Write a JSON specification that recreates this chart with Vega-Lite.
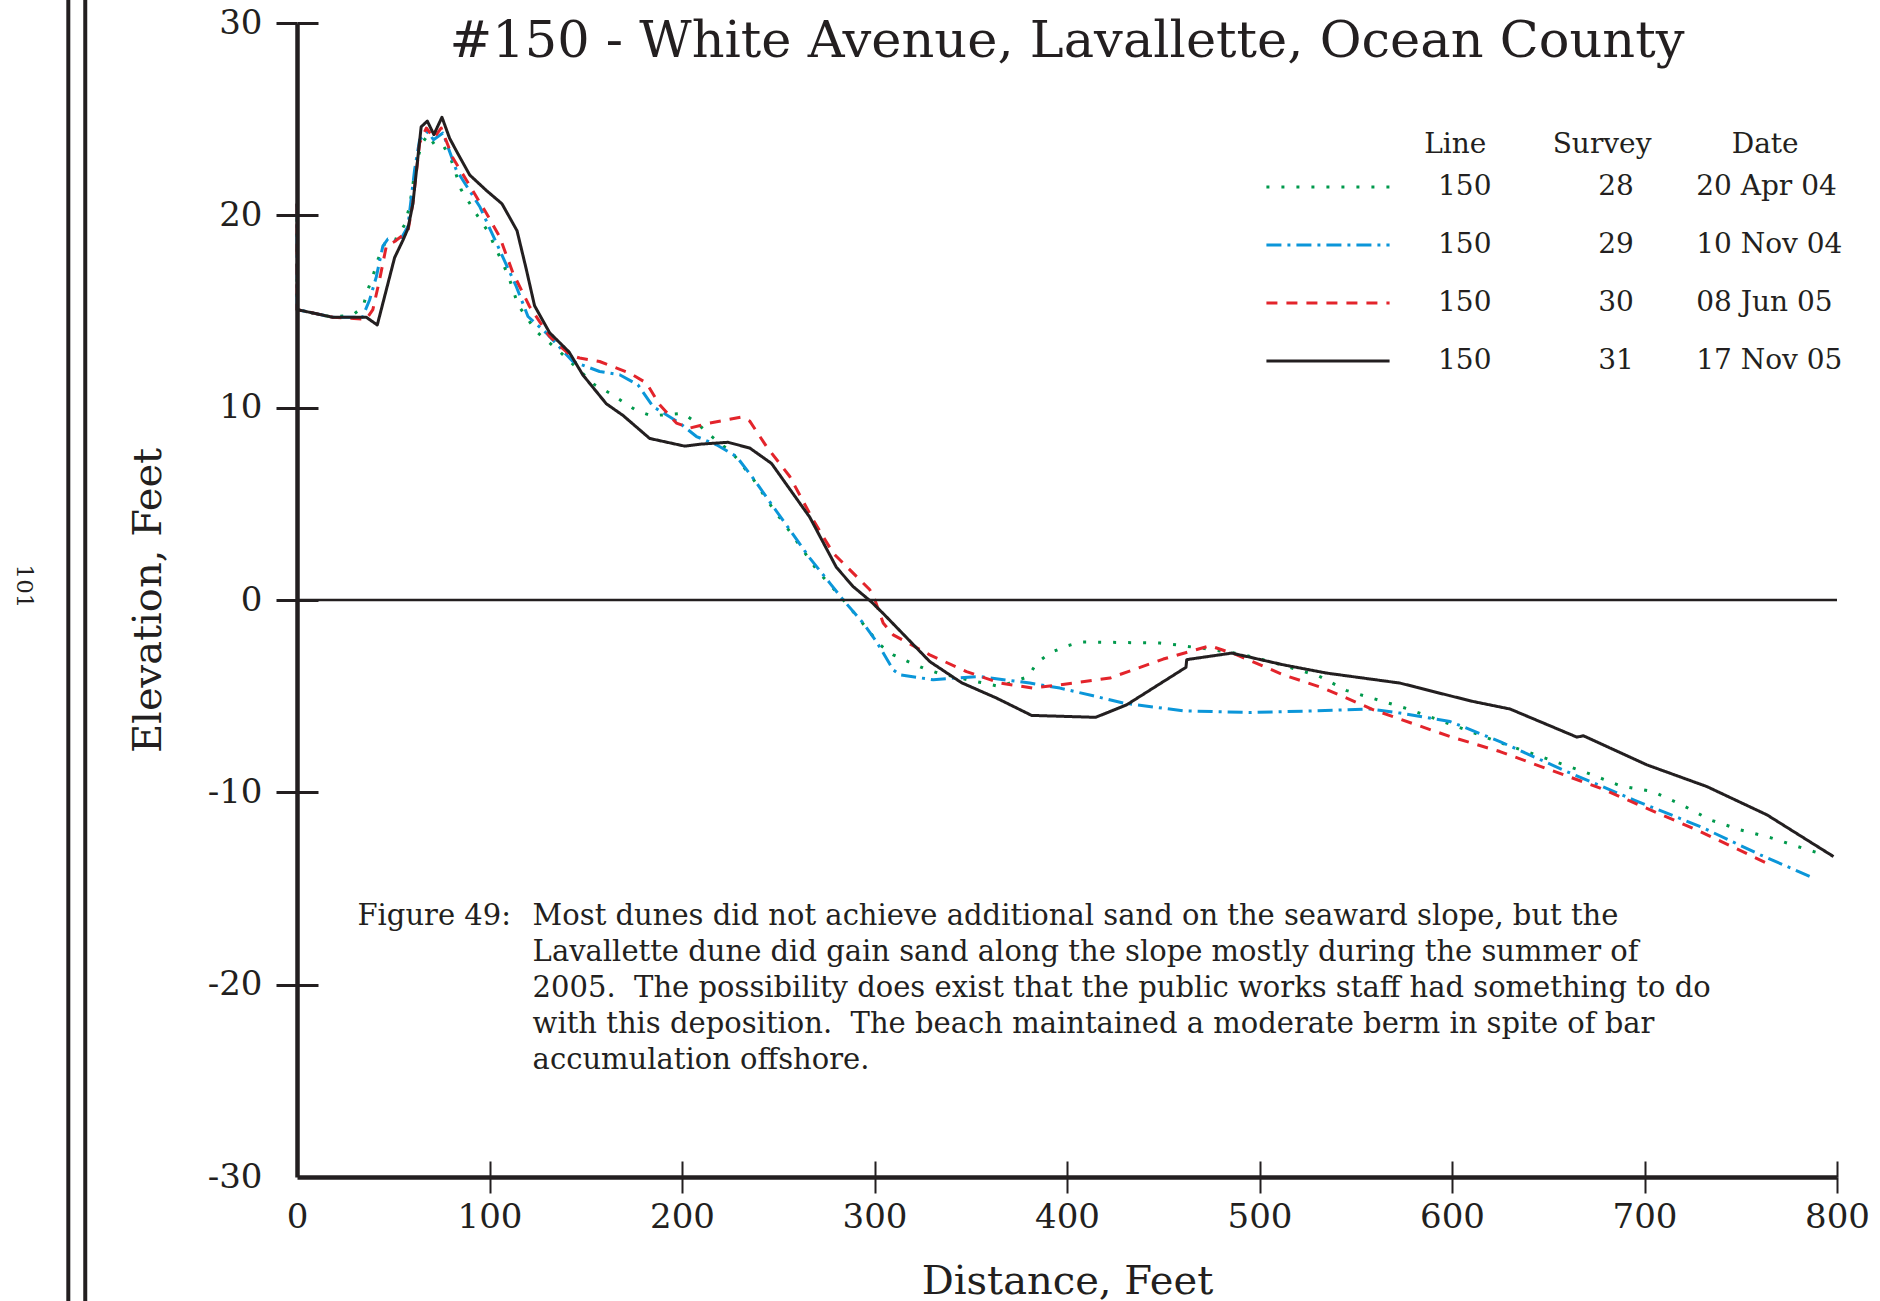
{
  "$schema": "https://vega.github.io/schema/vega-lite/v6.json",
  "width": 1540,
  "height": 1154,
  "autosize": {"type": "none"},
  "padding": {"left": 297, "top": 23, "right": 43, "bottom": 124},
  "background": "white",
  "config": {"view": {"stroke": null}, "font": "DejaVu Serif", "text": {"color": "#231f20", "font": "DejaVu Serif"}},
  "layer": [
    {
      "data": {"values": [
        {"s":"28","d":0,"e":20.6},{"s":"28","d":0,"e":15.1},{"s":"28","d":18.6,"e":14.7},{"s":"28","d":29,"e":14.83},{"s":"28","d":34.2,"e":15.21},{"s":"28","d":36.8,"e":16.13},{"s":"28","d":39.4,"e":16.83},{"s":"28","d":42,"e":17.69},{"s":"28","d":46.4,"e":18.73},{"s":"28","d":51.6,"e":18.77},{"s":"28","d":55.9,"e":19.51},{"s":"28","d":58.5,"e":20.46},{"s":"28","d":61.1,"e":22.2},{"s":"28","d":64.5,"e":23.67},{"s":"28","d":68,"e":24.19},{"s":"28","d":71.5,"e":23.67},{"s":"28","d":75.8,"e":23.67},{"s":"28","d":80.1,"e":22.89},{"s":"28","d":85.3,"e":21.33},{"s":"28","d":94,"e":19.94},{"s":"28","d":99.2,"e":19.16},{"s":"28","d":109.6,"e":16.91},{"s":"28","d":114.8,"e":15.35},{"s":"28","d":124.3,"e":13.96},{"s":"28","d":136.4,"e":12.92},{"s":"28","d":154.6,"e":11.19},{"s":"28","d":162.4,"e":10.76},{"s":"28","d":176.3,"e":9.85},{"s":"28","d":184.1,"e":9.58},{"s":"28","d":200.5,"e":9.7},{"s":"28","d":207.5,"e":9.23},{"s":"28","d":213.5,"e":8.66},{"s":"28","d":226.5,"e":7.6},{"s":"28","d":236.9,"e":6.3},{"s":"28","d":246.5,"e":4.86},{"s":"28","d":256,"e":3.56},{"s":"28","d":270.7,"e":1.48},{"s":"28","d":282,"e":0.22},{"s":"28","d":292.4,"e":-1.03},{"s":"28","d":302.8,"e":-2.33},{"s":"28","d":309.7,"e":-2.85},{"s":"28","d":317.5,"e":-3.2},{"s":"28","d":325.3,"e":-3.54},{"s":"28","d":333.1,"e":-3.8},{"s":"28","d":348.7,"e":-4.15},{"s":"28","d":365.1,"e":-4.5},{"s":"28","d":379.9,"e":-3.98},{"s":"28","d":384.2,"e":-3.28},{"s":"28","d":391.1,"e":-2.76},{"s":"28","d":398.9,"e":-2.42},{"s":"28","d":406.7,"e":-2.19},{"s":"28","d":415.4,"e":-2.19},{"s":"28","d":448.3,"e":-2.24},{"s":"28","d":456.9,"e":-2.33},{"s":"28","d":465.3,"e":-2.45},{"s":"28","d":473.4,"e":-2.55},{"s":"28","d":489.9,"e":-2.8},{"s":"28","d":505.5,"e":-3.2},{"s":"28","d":514.1,"e":-3.46},{"s":"28","d":530.6,"e":-3.94},{"s":"28","d":545.3,"e":-4.71},{"s":"28","d":561.4,"e":-5.19},{"s":"28","d":577.3,"e":-5.67},{"s":"28","d":592.9,"e":-6.23},{"s":"28","d":608.5,"e":-6.8},{"s":"28","d":624.9,"e":-7.41},{"s":"28","d":648.4,"e":-8.22},{"s":"28","d":671.8,"e":-9.05},{"s":"28","d":687.4,"e":-9.66},{"s":"28","d":704.2,"e":-9.96},{"s":"28","d":719.4,"e":-10.65},{"s":"28","d":734.1,"e":-11.43},{"s":"28","d":749.7,"e":-11.95},{"s":"28","d":766.2,"e":-12.38},{"s":"28","d":782.1,"e":-12.9},{"s":"28","d":789.6,"e":-13.13},
        {"s":"29","d":0,"e":20.6},{"s":"29","d":0,"e":15.1},{"s":"29","d":18.6,"e":14.7},{"s":"29","d":34,"e":14.7},{"s":"29","d":37.7,"e":15.6},{"s":"29","d":41.2,"e":16.8},{"s":"29","d":44.6,"e":18.4},{"s":"29","d":47.2,"e":18.77},{"s":"29","d":53.3,"e":18.64},{"s":"29","d":57.6,"e":19.42},{"s":"29","d":61.1,"e":22.37},{"s":"29","d":63.7,"e":23.93},{"s":"29","d":68,"e":24.36},{"s":"29","d":70.9,"e":23.93},{"s":"29","d":75.8,"e":24.28},{"s":"29","d":82.7,"e":22.37},{"s":"29","d":94.9,"e":20.46},{"s":"29","d":105.2,"e":18.21},{"s":"29","d":113.9,"e":16.3},{"s":"29","d":120,"e":14.74},{"s":"29","d":129.5,"e":13.88},{"s":"29","d":143.3,"e":12.4},{"s":"29","d":157.2,"e":11.88},{"s":"29","d":167.6,"e":11.71},{"s":"29","d":177.1,"e":11.19},{"s":"29","d":184.9,"e":10.06},{"s":"29","d":198.8,"e":9.2},{"s":"29","d":207.5,"e":8.5},{"s":"29","d":217.9,"e":8.07},{"s":"29","d":228.3,"e":7.46},{"s":"29","d":236.9,"e":6.34},{"s":"29","d":247.3,"e":4.86},{"s":"29","d":256,"e":3.65},{"s":"29","d":266.4,"e":2.18},{"s":"29","d":276.8,"e":0.88},{"s":"29","d":283.7,"e":0.01},{"s":"29","d":294.1,"e":-1.2},{"s":"29","d":301,"e":-2.16},{"s":"29","d":309.7,"e":-3.63},{"s":"29","d":313.2,"e":-3.89},{"s":"29","d":330.5,"e":-4.15},{"s":"29","d":340.9,"e":-4.06},{"s":"29","d":354.7,"e":-3.98},{"s":"29","d":380.7,"e":-4.32},{"s":"29","d":396.3,"e":-4.58},{"s":"29","d":413.6,"e":-4.98},{"s":"29","d":429.2,"e":-5.36},{"s":"29","d":460.4,"e":-5.76},{"s":"29","d":495,"e":-5.85},{"s":"29","d":529.7,"e":-5.76},{"s":"29","d":557.4,"e":-5.67},{"s":"29","d":573,"e":-5.88},{"s":"29","d":599,"e":-6.32},{"s":"29","d":624.9,"e":-7.36},{"s":"29","d":659.6,"e":-8.92},{"s":"29","d":694.3,"e":-10.39},{"s":"29","d":729,"e":-11.78},{"s":"29","d":760.1,"e":-13.25},{"s":"29","d":786.1,"e":-14.38},
        {"s":"30","d":0,"e":20.6},{"s":"30","d":0,"e":15.1},{"s":"30","d":18.6,"e":14.7},{"s":"30","d":36,"e":14.6},{"s":"30","d":39.4,"e":15.1},{"s":"30","d":42.9,"e":16.65},{"s":"30","d":46.4,"e":18.4},{"s":"30","d":50.7,"e":18.64},{"s":"30","d":57.6,"e":19.16},{"s":"30","d":60.2,"e":20.64},{"s":"30","d":63.7,"e":23.76},{"s":"30","d":67.2,"e":24.54},{"s":"30","d":71.1,"e":24.02},{"s":"30","d":74.9,"e":24.54},{"s":"30","d":81,"e":22.98},{"s":"30","d":87.9,"e":21.85},{"s":"30","d":98.3,"e":20.12},{"s":"30","d":105.2,"e":18.9},{"s":"30","d":112.2,"e":17.0},{"s":"30","d":120.8,"e":15.26},{"s":"30","d":131.2,"e":13.7},{"s":"30","d":141.6,"e":12.75},{"s":"30","d":146.8,"e":12.58},{"s":"30","d":157.2,"e":12.4},{"s":"30","d":172.8,"e":11.8},{"s":"30","d":181.5,"e":11.28},{"s":"30","d":188.4,"e":10.15},{"s":"30","d":197.1,"e":9.2},{"s":"30","d":204,"e":8.94},{"s":"30","d":214.4,"e":9.2},{"s":"30","d":230.9,"e":9.51},{"s":"30","d":235.2,"e":9.3},{"s":"30","d":243.9,"e":7.98},{"s":"30","d":256,"e":6.42},{"s":"30","d":268.1,"e":4.17},{"s":"30","d":278.5,"e":2.44},{"s":"30","d":297.6,"e":0.53},{"s":"30","d":300.2,"e":0.01},{"s":"30","d":304.5,"e":-1.2},{"s":"30","d":309.7,"e":-1.81},{"s":"30","d":328.7,"e":-2.85},{"s":"30","d":347.8,"e":-3.72},{"s":"30","d":365.1,"e":-4.32},{"s":"30","d":382.4,"e":-4.58},{"s":"30","d":396.3,"e":-4.41},{"s":"30","d":422.3,"e":-4.06},{"s":"30","d":450,"e":-3.07},{"s":"30","d":474.3,"e":-2.38},{"s":"30","d":488.2,"e":-2.85},{"s":"30","d":512.4,"e":-3.89},{"s":"30","d":533.2,"e":-4.58},{"s":"30","d":559.2,"e":-5.71},{"s":"30","d":599,"e":-7.1},{"s":"30","d":624.9,"e":-7.88},{"s":"30","d":677,"e":-9.78},{"s":"30","d":729,"e":-12.04},{"s":"30","d":765.4,"e":-13.77},
        {"s":"31","d":0,"e":15.1},{"s":"31","d":18.6,"e":14.7},{"s":"31","d":36,"e":14.7},{"s":"31","d":41.7,"e":14.3},{"s":"31","d":50.7,"e":17.8},{"s":"31","d":55,"e":18.7},{"s":"31","d":57.6,"e":19.3},{"s":"31","d":60.2,"e":20.6},{"s":"31","d":64.5,"e":24.6},{"s":"31","d":67.7,"e":24.9},{"s":"31","d":71.1,"e":24.2},{"s":"31","d":75.3,"e":25.1},{"s":"31","d":79.3,"e":24.0},{"s":"31","d":83.6,"e":23.2},{"s":"31","d":89.7,"e":22.1},{"s":"31","d":98.3,"e":21.3},{"s":"31","d":106.5,"e":20.6},{"s":"31","d":114.3,"e":19.2},{"s":"31","d":119.1,"e":17.2},{"s":"31","d":123.4,"e":15.3},{"s":"31","d":131.2,"e":13.9},{"s":"31","d":141.3,"e":12.9},{"s":"31","d":148.5,"e":11.7},{"s":"31","d":160.7,"e":10.2},{"s":"31","d":169.3,"e":9.6},{"s":"31","d":183.2,"e":8.4},{"s":"31","d":201.4,"e":8.0},{"s":"31","d":209.2,"e":8.1},{"s":"31","d":223.9,"e":8.2},{"s":"31","d":235.2,"e":7.9},{"s":"31","d":246.5,"e":7.1},{"s":"31","d":266.4,"e":4.3},{"s":"31","d":280.2,"e":1.7},{"s":"31","d":288.9,"e":0.7},{"s":"31","d":298.4,"e":-0.1},{"s":"31","d":304.5,"e":-0.7},{"s":"31","d":328.7,"e":-3.2},{"s":"31","d":345.2,"e":-4.3},{"s":"31","d":363.4,"e":-5.1},{"s":"31","d":381.6,"e":-6.0},{"s":"31","d":414.9,"e":-6.1},{"s":"31","d":431,"e":-5.45},{"s":"31","d":461.8,"e":-3.5},{"s":"31","d":462.2,"e":-3.1},{"s":"31","d":485.6,"e":-2.76},{"s":"31","d":512.4,"e":-3.37},{"s":"31","d":534.9,"e":-3.8},{"s":"31","d":573,"e":-4.32},{"s":"31","d":599,"e":-4.98},{"s":"31","d":611.1,"e":-5.28},{"s":"31","d":630.2,"e":-5.67},{"s":"31","d":664.9,"e":-7.13},{"s":"31","d":668.3,"e":-7.06},{"s":"31","d":701.2,"e":-8.57},{"s":"31","d":732.4,"e":-9.7},{"s":"31","d":763.6,"e":-11.17},{"s":"31","d":798.2,"e":-13.34}
      ]},
      "mark": {"type": "line", "strokeWidth": 3, "strokeCap": "butt", "strokeJoin": "round"},
      "encoding": {
        "x": {
          "field": "d", "type": "quantitative",
          "scale": {"domain": [0, 800], "nice": false, "zero": false},
          "axis": {
            "values": [0, 100, 200, 300, 400, 500, 600, 700, 800],
            "domainColor": "#231f20", "domainWidth": 4.5,
            "tickColor": "#231f20", "tickWidth": 2, "tickSize": 16,
            "tickOpacity": {"condition": {"test": "datum.value === 0", "value": 0}, "value": 1},
            "grid": true, "gridColor": "#231f20", "gridWidth": 2, "gridDash": [0, 1138, 16, 5000],
            "gridOpacity": {"condition": {"test": "datum.value === 0", "value": 0}, "value": 1},
            "labelFont": "DejaVu Serif", "labelFontSize": 34, "labelColor": "#231f20",
            "labelPadding": 7, "labelFlush": false, "labelOverlap": false,
            "title": "Distance, Feet", "titleFont": "DejaVu Serif", "titleFontSize": 40,
            "titleFontWeight": "normal", "titleColor": "#231f20", "titlePadding": 27,
            "zindex": 1
          }
        },
        "y": {
          "field": "e", "type": "quantitative",
          "scale": {"domain": [-30, 30], "nice": false, "zero": false},
          "axis": {
            "values": [-30, -20, -10, 0, 10, 20, 30],
            "domainColor": "#231f20", "domainWidth": 4.5,
            "tickColor": "#231f20", "tickWidth": 3, "tickSize": 21,
            "tickOpacity": {"condition": {"test": "datum.value === -30", "value": 0}, "value": 1},
            "grid": true, "gridColor": "#231f20", "gridWidth": 3, "gridDash": [21, 5000],
            "gridOpacity": {"condition": {"test": "datum.value === -30", "value": 0}, "value": 1},
            "labelFont": "DejaVu Serif", "labelFontSize": 34, "labelColor": "#231f20",
            "labelPadding": 14, "labelFlush": false, "labelOverlap": false,
            "labelExpr": "replace(datum.label, '\u2212', '-')",
            "title": "Elevation, Feet", "titleFont": "DejaVu Serif", "titleFontSize": 40,
            "titleFontWeight": "normal", "titleColor": "#231f20", "titlePadding": 39,
            "zindex": 1
          }
        },
        "color": {
          "field": "s", "type": "nominal",
          "scale": {"domain": ["28", "29", "30", "31"], "range": ["#00994c", "#0b96d9", "#e3242b", "#231f20"]},
          "legend": {
            "orient": "none", "legendX": 1014, "legendY": 147, "title": null, "padding": 0,
            "symbolType": "M-4,0H4", "symbolSize": 948, "symbolStrokeWidth": 3,
            "labelFont": "DejaVu Serif", "labelFontSize": 28, "labelColor": "#231f20",
            "labelOffset": 93, "rowPadding": 27, "labelLimit": 600,
            "labelExpr": "datum.label === '28' ? '150\u00a0\u00a0\u00a0\u00a0\u00a0\u00a0\u00a0\u00a0\u00a0\u00a0\u00a0\u00a028\u00a0\u00a0\u00a0\u00a0\u00a0\u00a0\u00a020 Apr 04' : datum.label === '29' ? '150\u00a0\u00a0\u00a0\u00a0\u00a0\u00a0\u00a0\u00a0\u00a0\u00a0\u00a0\u00a029\u00a0\u00a0\u00a0\u00a0\u00a0\u00a0\u00a010 Nov 04' : datum.label === '30' ? '150\u00a0\u00a0\u00a0\u00a0\u00a0\u00a0\u00a0\u00a0\u00a0\u00a0\u00a0\u00a030\u00a0\u00a0\u00a0\u00a0\u00a0\u00a0\u00a008 Jun 05' : '150\u00a0\u00a0\u00a0\u00a0\u00a0\u00a0\u00a0\u00a0\u00a0\u00a0\u00a0\u00a031\u00a0\u00a0\u00a0\u00a0\u00a0\u00a0\u00a017 Nov 05'"
          }
        },
        "strokeDash": {
          "field": "s", "type": "nominal",
          "scale": {"domain": ["28", "29", "30", "31"], "range": [[3, 12], [15, 6, 3, 6], [11, 9], [1, 0]]},
          "legend": {
            "orient": "none", "legendX": 1014, "legendY": 147, "title": null, "padding": 0,
            "symbolType": "M-4,0H4", "symbolSize": 948, "symbolStrokeWidth": 3,
            "labelFont": "DejaVu Serif", "labelFontSize": 28, "labelColor": "#231f20",
            "labelOffset": 93, "rowPadding": 27, "labelLimit": 600,
            "labelExpr": "datum.label === '28' ? '150\u00a0\u00a0\u00a0\u00a0\u00a0\u00a0\u00a0\u00a0\u00a0\u00a0\u00a0\u00a028\u00a0\u00a0\u00a0\u00a0\u00a0\u00a0\u00a020 Apr 04' : datum.label === '29' ? '150\u00a0\u00a0\u00a0\u00a0\u00a0\u00a0\u00a0\u00a0\u00a0\u00a0\u00a0\u00a029\u00a0\u00a0\u00a0\u00a0\u00a0\u00a0\u00a010 Nov 04' : datum.label === '30' ? '150\u00a0\u00a0\u00a0\u00a0\u00a0\u00a0\u00a0\u00a0\u00a0\u00a0\u00a0\u00a030\u00a0\u00a0\u00a0\u00a0\u00a0\u00a0\u00a008 Jun 05' : '150\u00a0\u00a0\u00a0\u00a0\u00a0\u00a0\u00a0\u00a0\u00a0\u00a0\u00a0\u00a031\u00a0\u00a0\u00a0\u00a0\u00a0\u00a0\u00a017 Nov 05'"
          }
        },
        "order": {"value": null}
      }
    },
    {
      "data": {"values": [{}]},
      "mark": {"type": "rule", "color": "#231f20", "strokeWidth": 4},
      "encoding": {
        "x": {"datum": -118.8, "type": "quantitative"},
        "y": {"datum": 31.3, "type": "quantitative"},
        "y2": {"datum": -36.5}
      }
    },
    {
      "data": {"values": [{}]},
      "mark": {"type": "rule", "color": "#231f20", "strokeWidth": 4},
      "encoding": {
        "x": {"datum": -110.0, "type": "quantitative"},
        "y": {"datum": 31.3, "type": "quantitative"},
        "y2": {"datum": -36.5}
      }
    },
    {
      "data": {"values": [{}]},
      "mark": {"type": "text", "angle": 90, "align": "center", "baseline": "middle", "fontSize": 23, "text": "101"},
      "encoding": {
        "x": {"datum": -142, "type": "quantitative"},
        "y": {"datum": 0.7, "type": "quantitative"}
      }
    },
    {
      "data": {"values": [{}]},
      "mark": {"type": "rule", "color": "#231f20", "strokeWidth": 2.5},
      "encoding": {
        "x": {"datum": 0, "type": "quantitative"},
        "x2": {"datum": 800},
        "y": {"datum": 0, "type": "quantitative"}
      }
    },
    {
      "data": {"values": [{}]},
      "mark": {"type": "text", "align": "center", "baseline": "alphabetic", "fontSize": 51, "text": "#150 - White Avenue, Lavallette, Ocean County"},
      "encoding": {
        "x": {"datum": 400, "type": "quantitative"},
        "y": {"datum": 28.25, "type": "quantitative"}
      }
    },
    {
      "data": {"values": [{}]},
      "mark": {"type": "text", "align": "left", "baseline": "alphabetic", "fontSize": 28, "text": "Line"},
      "encoding": {
        "x": {"datum": 585.6, "type": "quantitative"},
        "y": {"datum": 23.24, "type": "quantitative"}
      }
    },
    {
      "data": {"values": [{}]},
      "mark": {"type": "text", "align": "left", "baseline": "alphabetic", "fontSize": 28, "text": "Survey"},
      "encoding": {
        "x": {"datum": 652.3, "type": "quantitative"},
        "y": {"datum": 23.24, "type": "quantitative"}
      }
    },
    {
      "data": {"values": [{}]},
      "mark": {"type": "text", "align": "left", "baseline": "alphabetic", "fontSize": 28, "text": "Date"},
      "encoding": {
        "x": {"datum": 745.3, "type": "quantitative"},
        "y": {"datum": 23.24, "type": "quantitative"}
      }
    },
    {
      "data": {"values": [{}]},
      "mark": {"type": "text", "align": "left", "baseline": "alphabetic", "fontSize": 29, "text": "Figure 49:"},
      "encoding": {
        "x": {"datum": 31.4, "type": "quantitative"},
        "y": {"datum": -16.89, "type": "quantitative"}
      }
    },
    {
      "data": {"values": [{}]},
      "mark": {
        "type": "text", "align": "left", "baseline": "alphabetic", "fontSize": 29, "lineHeight": 36,
        "text": [
          "Most dunes did not achieve additional sand on the seaward slope, but the",
          "Lavallette dune did gain sand along the slope mostly during the summer of",
          "2005.\u00a0 The possibility does exist that the public works staff had something to do",
          "with this deposition.\u00a0 The beach maintained a moderate berm in spite of bar",
          "accumulation offshore."
        ]
      },
      "encoding": {
        "x": {"datum": 122.4, "type": "quantitative"},
        "y": {"datum": -16.89, "type": "quantitative"}
      }
    }
  ]
}
